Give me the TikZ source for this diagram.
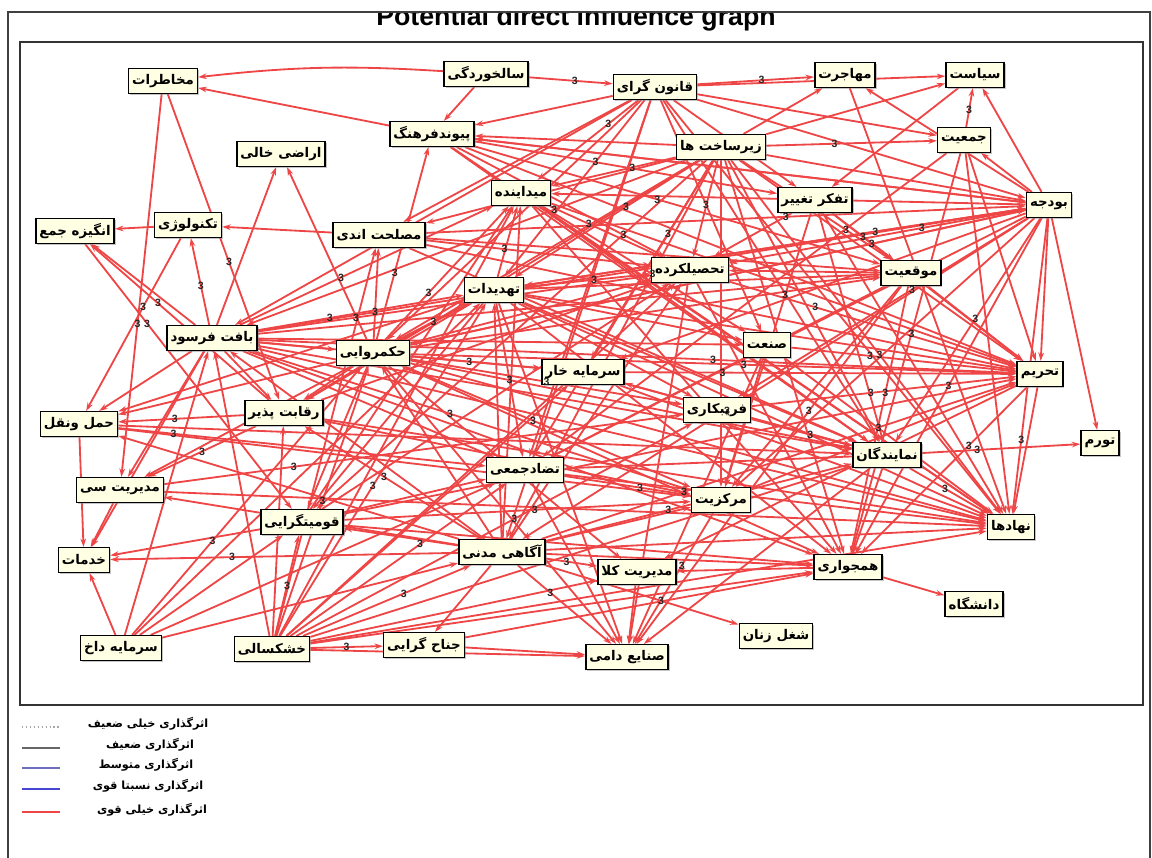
\documentclass[tikz,border=0pt]{standalone}
\usepackage{fontspec}
\setmainfont{Liberation Sans}
\newfontfamily\farsi[Script=Arabic]{DejaVu Sans}
\TeXXeTstate=1
\usetikzlibrary{arrows.meta,shadows,backgrounds}
\newcommand{\fatxt}[1]{{\farsi\beginR #1\endR}}
\definecolor{linkred}{RGB}{238,70,70}
\definecolor{boxfill}{RGB}{255,255,228}
\definecolor{legblue}{RGB}{70,70,210}
\definecolor{legslate}{RGB}{110,110,190}
\tikzset{
  factor/.style={draw=black,line width=1.1pt,fill=boxfill,inner xsep=2.5pt,inner ysep=1pt,
    minimum height=17.5pt,font=\bfseries\fontsize{9.5}{10}\selectfont,
    drop shadow={shadow xshift=1.2pt,shadow yshift=-1.2pt,fill=black!45}},
  link/.style={linkred,line width=1.3pt,-{Stealth[length=6pt,width=4pt]}},
  num/.style={font=\bfseries\fontsize{7.5}{7.5}\selectfont,inner sep=0.5pt,text=black!85},
  legtxt/.style={font=\bfseries\fontsize{8}{8}\selectfont},
}
\begin{document}
\begin{tikzpicture}[x=0.025cm,y=-0.025cm]
    \useasboundingbox (0,0) rectangle (1152,857);
    % frames and title
    \begin{scope}
        \clip (8,13) rectangle (1152,60);
        \node[font=\bfseries\fontsize{19}{19}\selectfont] (title) at (576,19) {Potential direct influence graph};
    \end{scope}
    \draw[line width=1.2pt,black!75] (8,870) -- (8,12) -- (1150,12) -- (1150,870);
    \draw[line width=0.9pt,black!80] (20,42) rectangle (1143,705);
    % factors
    \node[factor] (risk) at (163,81) {\fatxt{مخاطرات}};
    \node[factor] (aging) at (486,74) {\fatxt{سالخوردگی}};
    \node[factor] (legal) at (655,87) {\fatxt{قانون گرای}};
    \node[factor] (migr) at (845,75) {\fatxt{مهاجرت}};
    \node[factor] (policy) at (975,75) {\fatxt{سیاست}};
    \node[factor] (culture) at (432,134) {\fatxt{پیوندفرهنگ}};
    \node[factor] (land) at (281,154) {\fatxt{اراضی خالی}};
    \node[factor] (infra) at (721,147) {\fatxt{زیرساخت ها}};
    \node[factor] (popul) at (964,140) {\fatxt{جمعیت}};
    \node[factor] (mayd) at (521,193) {\fatxt{میداینده}};
    \node[factor] (change) at (815,200) {\fatxt{تفکر تغییر}};
    \node[factor] (budget) at (1049,205) {\fatxt{بودجه}};
    \node[factor] (motiv) at (75,231) {\fatxt{انگیزه جمع}};
    \node[factor] (tech) at (188,225) {\fatxt{تکنولوژی}};
    \node[factor] (expedi) at (379,235) {\fatxt{مصلحت اندی}};
    \node[factor] (educ) at (690,270) {\fatxt{تحصیلکرده}};
    \node[factor] (posit) at (911,273) {\fatxt{موقعیت}};
    \node[factor] (threat) at (494,290) {\fatxt{تهدیدات}};
    \node[factor] (fabric) at (212,338) {\fatxt{بافت فرسود}};
    \node[factor] (gov) at (373,353) {\fatxt{حکمروایی}};
    \node[factor] (indus) at (767,345) {\fatxt{صنعت}};
    \node[factor] (forcap) at (583,372) {\fatxt{سرمایه خار}};
    \node[factor] (sanct) at (1040,374) {\fatxt{تحریم}};
    \node[factor] (compet) at (284,413) {\fatxt{رقابت پذیر}};
    \node[factor] (transp) at (79,424) {\fatxt{حمل ونقل}};
    \node[factor] (deceit) at (717,410) {\fatxt{فریبکاری}};
    \node[factor] (inflat) at (1100,443) {\fatxt{تورم}};
    \node[factor] (repres) at (887,455) {\fatxt{نمایندگان}};
    \node[factor] (collect) at (525,470) {\fatxt{تضادجمعی}};
    \node[factor] (citymg) at (120,490) {\fatxt{مدیریت سی}};
    \node[factor] (central) at (721,500) {\fatxt{مرکزیت}};
    \node[factor] (ethnic) at (302,522) {\fatxt{قومیتگرایی}};
    \node[factor] (instit) at (1011,527) {\fatxt{نهادها}};
    \node[factor] (service) at (84,560) {\fatxt{خدمات}};
    \node[factor] (civic) at (502,552) {\fatxt{آگاهی مدنی}};
    \node[factor] (goodsmg) at (637,572) {\fatxt{مدیریت کلا}};
    \node[factor] (neighb) at (848,567) {\fatxt{همجواری}};
    \node[factor] (univ) at (974,604) {\fatxt{دانشگاه}};
    \node[factor] (domcap) at (121,648) {\fatxt{سرمایه داخ}};
    \node[factor] (drought) at (272,649) {\fatxt{خشکسالی}};
    \node[factor] (faction) at (424,645) {\fatxt{جناح گرایی}};
    \node[factor] (women) at (776,636) {\fatxt{شغل زنان}};
    \node[factor] (livest) at (627,657) {\fatxt{صنایع دامی}};
    % influences
    \begin{scope}[on background layer]
        \draw[link] (aging) to[bend right=5] (risk);
        \draw[link] (culture) -- (risk);
        \draw[link] (aging) -- (culture);
        \draw[link] (aging) -- (legal);
        \foreach \t in {citymg,compet} \draw[link] (risk) -- (\t);
        \foreach \s in {fabric,gov} \draw[link] (\s) -- (land);
        \draw[link] (tech) -- (motiv);
        \draw[link] (expedi) -- (tech);
        \draw[link] (tech) -- (transp);
        \draw[link] (compet) -- (motiv);
        \draw[link] (motiv) -- (ethnic);
        \foreach \t in {culture,mayd,expedi,threat,fabric,gov,compet,ethnic,civic,collect,migr,policy,popul,budget,sanct,instit,repres,posit,educ,forcap,central,neighb}
            \draw[link] (infra) -- (\t);
        \foreach \t in {culture,mayd,expedi,threat,gov,fabric,civic,collect,migr,policy,popul,budget,change,indus,repres,instit}
            \draw[link] (legal) -- (\t);
        \foreach \t in {culture,mayd,educ,threat,gov,forcap,deceit,civic,collect,central,sanct,instit,inflat,repres,neighb,migr,policy,popul}
            \draw[link] (budget) -- (\t);
        \foreach \s in {fabric,gov,threat,educ,forcap,indus,deceit,civic,ethnic,central,change,posit,popul,mayd,culture,expedi}
            \draw[link] (\s) -- (sanct);
        \foreach \t in {instit,goodsmg,neighb} \draw[link] (sanct) -- (\t);
        \foreach \t in {faction,livest,service,transp,citymg,ethnic,compet,fabric,gov,threat,mayd,educ,repres,instit,neighb,central,goodsmg,women}
            \draw[link] (civic) -- (\t);
        \foreach \t in {ethnic,gov,threat,civic,collect,forcap,deceit,repres,instit,neighb,goodsmg,faction,livest,fabric,compet,educ,mayd,expedi}
            \draw[link] (drought) -- (\t);
        \foreach \t in {threat,mayd,educ,gov,indus,repres,instit,central,transp,citymg,service,motiv,compet,forcap,collect,tech,posit,budget,neighb}
            \draw[link] (fabric) -- (\t);
        \foreach \t in {threat,mayd,culture,expedi,educ,forcap,deceit,repres,instit,central,transp,compet,ethnic,livest,goodsmg,budget,posit,neighb}
            \draw[link] (gov) -- (\t);
        \foreach \t in {mayd,educ,indus,deceit,repres,instit,transp,citymg,compet,ethnic,collect,livest,posit,budget,neighb}
            \draw[link] (threat) -- (\t);
        \foreach \t in {inflat,instit,neighb,livest,collect,forcap} \draw[link] (repres) -- (\t);
        \draw[link] (neighb) -- (univ);
        \foreach \s in {educ,mayd,ethnic,faction} \draw[link] (\s) -- (neighb);
        \draw[link] (neighb) -- (goodsmg);
        \foreach \s in {faction,goodsmg,central,educ,posit,collect,indus} \draw[link] (\s) -- (livest);
        \foreach \s in {transp,citymg,domcap,ethnic} \draw[link] (\s) -- (service);
        \foreach \t in {transp,citymg,central,instit,educ} \draw[link] (compet) -- (\t);
        \foreach \t in {ethnic,fabric,gov,threat,civic,collect} \draw[link] (domcap) -- (\t);
        \foreach \t in {collect,central,repres} \draw[link] (transp) -- (\t);
        \foreach \t in {deceit,instit} \draw[link] (citymg) -- (\t);
        \foreach \t in {collect,central,educ,mayd} \draw[link] (ethnic) -- (\t);
        \foreach \t in {educ,posit,repres,central,instit} \draw[link] (change) -- (\t);
        \foreach \t in {policy,instit,neighb,collect} \draw[link] (popul) -- (\t);
        \draw[link] (migr) -- (instit);
        \draw[link] (policy) -- (change);
        \foreach \t in {educ,collect,central,neighb} \draw[link] (posit) -- (\t);
        \foreach \t in {central,instit} \draw[link] (indus) -- (\t);
        \draw[link] (deceit) -- (repres);
        \foreach \t in {instit,central} \draw[link] (collect) -- (\t);
        \foreach \t in {instit,repres} \draw[link] (forcap) -- (\t);
        \foreach \t in {educ,indus,instit,repres} \draw[link] (mayd) -- (\t);
        \foreach \t in {educ,posit,budget,change,instit,repres} \draw[link] (culture) -- (\t);
        \foreach \t in {educ,posit,budget,repres} \draw[link] (expedi) -- (\t);
    \end{scope}
    % influence values
    \foreach \a/\b/\p in {aging/legal/.55,legal/migr/.55,popul/policy/.45,infra/popul/.4,infra/posit/.7,
        legal/threat/.35,legal/mayd/.3,infra/mayd/.35,infra/threat/.4,infra/fabric/.3,budget/educ/.35,
        budget/threat/.3,budget/gov/.25,budget/instit/.75,budget/repres/.45,culture/educ/.8,
        expedi/educ/.35,fabric/threat/.35,fabric/mayd/.4,fabric/educ/.25,gov/threat/.5,gov/mayd/.35,
        tech/transp/.4,motiv/ethnic/.3,compet/motiv/.62,risk/citymg/.6,risk/compet/.55,fabric/tech/.45,
        gov/culture/.35,gov/expedi/.3,threat/educ/.55,mayd/educ/.35,educ/sanct/.3,forcap/sanct/.25,
        indus/sanct/.35,gov/sanct/.55,fabric/sanct/.6,deceit/sanct/.45,civic/sanct/.3,civic/repres/.4,
        drought/civic/.6,drought/faction/.5,drought/ethnic/.5,drought/gov/.5,drought/threat/.45,
        domcap/gov/.35,civic/service/.65,civic/compet/.55,civic/livest/.35,civic/goodsmg/.4,
        drought/collect/.6,drought/deceit/.55,threat/collect/.5,gov/forcap/.45,gov/deceit/.5,
        fabric/central/.45,gov/central/.45,threat/instit/.62,repres/instit/.45,repres/inflat/.35,
        posit/neighb/.4,change/central/.3,sanct/neighb/.35,posit/livest/.35,central/livest/.4,
        civic/women/.6,compet/transp/.55,compet/citymg/.5,transp/collect/.15,citymg/deceit/.25,
        ethnic/central/.55,collect/central/.6,forcap/repres/.45,indus/instit/.45,popul/neighb/.45,
        legal/indus/.45,infra/civic/.3,infra/collect/.25,budget/deceit/.4,budget/neighb/.5,
        change/posit/.5,culture/posit/.45,expedi/budget/.6,infra/instit/.55}
        \path (\a) -- (\b) node[num,pos=\p] {3};
    % legend
    \coordinate (l1) at (22,727); \coordinate (l1e) at (60,727);
    \coordinate (l2) at (22,748); \coordinate (l2e) at (60,748);
    \coordinate (l3) at (22,768); \coordinate (l3e) at (60,768);
    \coordinate (l4) at (22,789); \coordinate (l4e) at (60,789);
    \coordinate (l5) at (22,812); \coordinate (l5e) at (60,812);
    \draw[black!35,dotted,line width=0.8pt] (l1) -- (l1e);
    \draw[black!60,line width=0.8pt] (l2) -- (l2e);
    \draw[legslate,line width=0.8pt] (l3) -- (l3e);
    \draw[legblue,line width=1.6pt] (l4) -- (l4e);
    \draw[linkred,line width=1.6pt] (l5) -- (l5e);
    \node[legtxt] (t1) at (148,724) {\fatxt{اثرگذاری خیلی ضعیف}};
    \node[legtxt] (t2) at (150,745) {\fatxt{اثرگذاری ضعیف}};
    \node[legtxt] (t3) at (146,765) {\fatxt{اثرگذاری متوسط}};
    \node[legtxt] (t4) at (148,786) {\fatxt{اثرگذاری نسبتا قوی}};
    \node[legtxt] (t5) at (152,810) {\fatxt{اثرگذاری خیلی قوی}};
\end{tikzpicture}
\end{document}
